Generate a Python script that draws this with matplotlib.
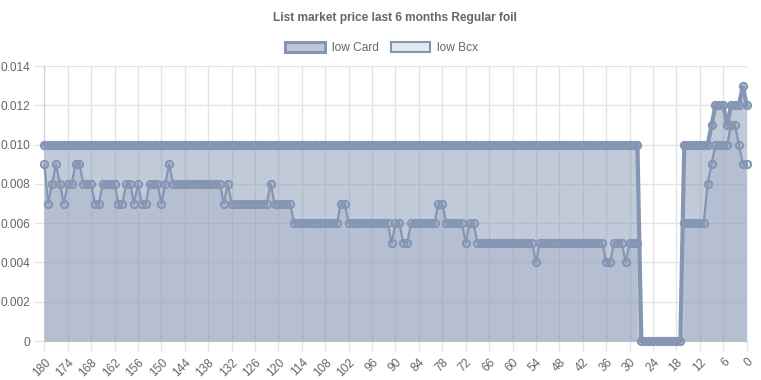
import numpy as np
import matplotlib
matplotlib.use("Agg")
import matplotlib.pyplot as plt
from matplotlib.patches import Patch

plt.rcParams['font.family'] = ['Liberation Sans', 'DejaVu Sans']

# days before today, left to right (180 .. 0, one per day)
days = list(range(180, -1, -1))

N = None
# low Card, day 180 -> day 0
low_card = [
    0.01, 0.01, 0.01, 0.01, 0.01, 0.01, 0.01, 0.01, 0.01, 0.01,   # 180-171
    0.01, 0.01, 0.01, 0.01, 0.01, 0.01, 0.01, 0.01, 0.01, 0.01,   # 170-161
    0.01, 0.01, 0.01, 0.01, 0.01, 0.01, 0.01, 0.01, 0.01, 0.01,   # 160-151
    0.01, 0.01, 0.01, 0.01, 0.01, 0.01, 0.01, 0.01, 0.01, 0.01,   # 150-141
    0.01, 0.01, 0.01, 0.01, 0.01, 0.01, 0.01, 0.01, 0.01, 0.01,   # 140-131
    0.01, 0.01, 0.01, 0.01, 0.01, 0.01, 0.01, 0.01, 0.01, 0.01,   # 130-121
    0.01, 0.01, 0.01, 0.01, 0.01, 0.01, 0.01, 0.01, 0.01, 0.01,   # 120-111
    0.01, 0.01, 0.01, 0.01, 0.01, 0.01, 0.01, 0.01, 0.01, 0.01,   # 110-101
    0.01, 0.01, 0.01, 0.01, 0.01, 0.01, 0.01, 0.01, 0.01, 0.01,   # 100-91
    0.01, 0.01, 0.01, 0.01, 0.01, 0.01, 0.01, 0.01, 0.01, 0.01,   # 90-81
    0.01, 0.01, 0.01, 0.01, 0.01, 0.01, 0.01, 0.01, 0.01, 0.01,   # 80-71
    0.01, 0.01, 0.01, 0.01, 0.01, 0.01, 0.01, 0.01, 0.01, 0.01,   # 70-61
    0.01, 0.01, 0.01, 0.01, 0.01, 0.01, 0.01, 0.01, 0.01, 0.01,   # 60-51
    0.01, 0.01, 0.01, 0.01, 0.01, 0.01, 0.01, 0.01, 0.01, 0.01,   # 50-41
    0.01, 0.01, 0.01, 0.01, 0.01, 0.01, 0.01, 0.01, 0.01, 0.01,   # 40-31
    0.01, 0.01, 0.01, 0, 0, 0, 0, 0, 0, 0,                        # 30-21
    0, 0, 0, 0, 0.01, 0.01, 0.01, 0.01, 0.01, 0.01,               # 20-11
    0.01, 0.011, 0.012, 0.012, 0.012, 0.011, 0.012, 0.012, 0.012, 0.013,  # 10-1
    0.012,                                                        # 0
]
# low Bcx, day 180 -> day 0 (None = no price)
low_bcx = [
    0.009, 0.007, 0.008, 0.009, 0.008, 0.007, 0.008, 0.008, 0.009, 0.009,  # 180-171
    0.008, 0.008, 0.008, 0.007, 0.007, 0.008, 0.008, 0.008, 0.008, 0.007,  # 170-161
    0.007, 0.008, 0.008, 0.007, 0.008, 0.007, 0.007, 0.008, 0.008, 0.008,  # 160-151
    0.007, 0.008, 0.009, 0.008, 0.008, 0.008, 0.008, 0.008, 0.008, 0.008,  # 150-141
    0.008, 0.008, 0.008, 0.008, 0.008, 0.008, 0.007, 0.008, 0.007, 0.007,  # 140-131
    0.007, 0.007, 0.007, 0.007, 0.007, 0.007, 0.007, 0.007, 0.008, 0.007,  # 130-121
    0.007, 0.007, 0.007, 0.007, 0.006, 0.006, 0.006, 0.006, 0.006, 0.006,  # 120-111
    0.006, 0.006, 0.006, 0.006, 0.006, 0.006, 0.007, 0.007, 0.006, 0.006,  # 110-101
    0.006, 0.006, 0.006, 0.006, 0.006, 0.006, 0.006, 0.006, 0.006, 0.005,  # 100-91
    0.006, 0.006, 0.005, 0.005, 0.006, 0.006, 0.006, 0.006, 0.006, 0.006,  # 90-81
    0.006, 0.007, 0.007, 0.006, 0.006, 0.006, 0.006, 0.006, 0.005, 0.006,  # 80-71
    0.006, 0.005, 0.005, 0.005, 0.005, 0.005, 0.005, 0.005, 0.005, 0.005,  # 70-61
    0.005, 0.005, 0.005, 0.005, 0.005, 0.005, 0.004, 0.005, 0.005, 0.005,  # 60-51
    0.005, 0.005, 0.005, 0.005, 0.005, 0.005, 0.005, 0.005, 0.005, 0.005,  # 50-41
    0.005, 0.005, 0.005, 0.005, 0.004, 0.004, 0.005, 0.005, 0.005, 0.004,  # 40-31
    0.005, 0.005, 0.005, N, N, N, N, N, N, N,                              # 30-21
    N, N, N, N, 0.006, 0.006, 0.006, 0.006, 0.006, 0.006,                  # 20-11
    0.008, 0.009, 0.01, 0.01, 0.01, 0.01, 0.011, 0.011, 0.01, 0.009,       # 10-1
    0.009,                                                                 # 0
]

x_ticks = list(range(180, -1, -6))
y_ticks = [0, 0.002, 0.004, 0.006, 0.008, 0.010, 0.012, 0.014]
y_labels = ['0', '0.002', '0.004', '0.006', '0.008', '0.010', '0.012', '0.014']

line_col = (0.522, 0.588, 0.706)
card_fill = (0.522, 0.588, 0.706, 0.5)
bcx_fill = (0.522, 0.588, 0.706, 0.2)
txt = '#666666'
grid = '#e4e4e4'

x = np.array(days, dtype=float)
card = np.array(low_card, dtype=float)
bcx = np.array([np.nan if v is None else v for v in low_bcx], dtype=float)

fig = plt.figure(figsize=(7.61, 3.80), dpi=100)
ax = fig.add_axes([0.0582, 0.1026, 0.9230, 0.7237])

# Bcx drawn first (below), Card on top
ok = ~np.isnan(bcx)
ax.fill_between(x, 0, np.where(ok, bcx, 0), where=ok, color=bcx_fill, lw=0, zorder=2)
ax.plot(x, bcx, color=line_col, lw=1.6, marker='o', ms=5.2, mew=1.5,
        mfc=bcx_fill, mec=line_col, zorder=3, clip_on=False)

ax.fill_between(x, 0, card, color=card_fill, lw=0, zorder=4)
ax.plot(x, card, color=line_col, lw=3, marker='o', ms=5.2, mew=1.5,
        mfc=card_fill, mec=line_col, zorder=5, clip_on=False, solid_joinstyle='miter')

ax.set_xlim(180, 0)
ax.set_ylim(0, 0.014)
ax.set_xticks(x_ticks)
ax.set_xticklabels([str(t) for t in x_ticks], rotation=45, ha='right',
                   rotation_mode='anchor', color=txt, fontsize=8.6)
ax.set_yticks(y_ticks)
ax.set_yticklabels(y_labels, color=txt, fontsize=8.6)
ax.tick_params(axis='both', length=7, color=grid, width=1, pad=3)
ax.tick_params(axis='x', pad=4)
ax.grid(True, color=grid, lw=1)
ax.set_axisbelow(True)
for side in ['top', 'right']:
    ax.spines[side].set_visible(False)
for side in ['left', 'bottom']:
    ax.spines[side].set_color('#d0d0d0')

fig.text(0.519, 0.953, 'List market price last 6 months Regular foil',
         ha='center', va='center', fontsize=8.6, fontweight='bold', color=txt)

handles = [Patch(facecolor=(0.75, 0.78, 0.843), edgecolor=line_col, lw=2.2, label='low Card'),
           Patch(facecolor=(0.90, 0.91, 0.94), edgecolor=line_col, lw=1.5, label='low Bcx')]
leg = fig.legend(handles=handles, loc='center', bbox_to_anchor=(0.502, 0.874), ncol=2,
                 frameon=False, fontsize=8.6, handlelength=3.3, handleheight=1.0,
                 handletextpad=0.6, columnspacing=1.0)
for t in leg.get_texts():
    t.set_color(txt)

fig.savefig('out.png', dpi=100)
